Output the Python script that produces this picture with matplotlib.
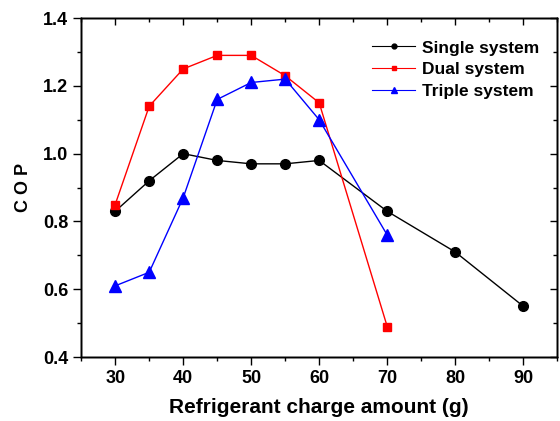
import numpy as np
import matplotlib.pyplot as plt
from matplotlib.ticker import MultipleLocator

plt.rcParams['font.family'] = ['Liberation Sans', 'DejaVu Sans']
plt.rcParams['font.weight'] = 'bold'

single_x = [30, 35, 40, 45, 50, 55, 60, 70, 80, 90]
single_y = [0.83, 0.92, 1.00, 0.98, 0.97, 0.97, 0.98, 0.83, 0.71, 0.55]

dual_x = [30, 35, 40, 45, 50, 55, 60, 70]
dual_y = [0.85, 1.14, 1.25, 1.29, 1.29, 1.23, 1.15, 0.49]

triple_x = [30, 35, 40, 45, 50, 55, 60, 70]
triple_y = [0.61, 0.65, 0.87, 1.16, 1.21, 1.22, 1.10, 0.76]


def main():
    fig = plt.figure(figsize=(5.6, 4.21), dpi=100)
    ax = fig.add_axes([0.145, 0.152, 0.85, 0.805])

    ax.plot(single_x, single_y, color='black', lw=1, marker='o', ms=7,
            label='Single system')
    ax.plot(dual_x, dual_y, color='red', lw=1, marker='s', ms=6.3,
            label='Dual system')
    ax.plot(triple_x, triple_y, color='blue', lw=1, marker='^', ms=8,
            label='Triple system')

    ax.set_xlim(25, 95)
    ax.set_ylim(0.4, 1.4)
    ax.xaxis.set_major_locator(MultipleLocator(10))
    ax.xaxis.set_minor_locator(MultipleLocator(5))
    ax.yaxis.set_major_locator(MultipleLocator(0.2))
    ax.yaxis.set_minor_locator(MultipleLocator(0.1))
    ax.yaxis.set_major_formatter(plt.FormatStrFormatter('%.1f'))

    # bottom/left ticks out, top/right ticks in
    ax.tick_params(which='major', direction='out', length=6, width=1,
                   labelsize=13)
    ax.tick_params(which='minor', direction='out', length=3, width=1)
    top = ax.twiny()
    top.set_xlim(ax.get_xlim())
    top.xaxis.set_major_locator(MultipleLocator(10))
    top.xaxis.set_minor_locator(MultipleLocator(5))
    top.tick_params(which='major', direction='in', length=5, width=1,
                    labeltop=False)
    top.tick_params(which='minor', direction='in', length=3, width=1)
    right = ax.twinx()
    right.set_ylim(ax.get_ylim())
    right.yaxis.set_major_locator(MultipleLocator(0.2))
    right.yaxis.set_minor_locator(MultipleLocator(0.1))
    right.tick_params(which='major', direction='in', length=5, width=1,
                      labelright=False)
    right.tick_params(which='minor', direction='in', length=3, width=1)
    for a in (ax, top, right):
        for s in a.spines.values():
            s.set_linewidth(1)

    ax.set_xlabel('Refrigerant charge amount (g)', fontsize=15,
                  fontweight='bold', labelpad=8)
    ax.set_ylabel('C O P', fontsize=13, fontweight='bold', labelpad=8)

    leg = ax.legend(loc='upper right', bbox_to_anchor=(0.985, 0.965),
                    frameon=False, fontsize=12.5, markerscale=0.5,
                    handlelength=2.5, labelspacing=0.38, handletextpad=0.4,
                    borderaxespad=0.2)
    for t in leg.get_texts():
        t.set_fontweight('bold')
    for h in leg.legend_handles:
        h.set_linewidth(0.8)

    fig.savefig('out.png', dpi=100)


if __name__ == '__main__':
    main()
